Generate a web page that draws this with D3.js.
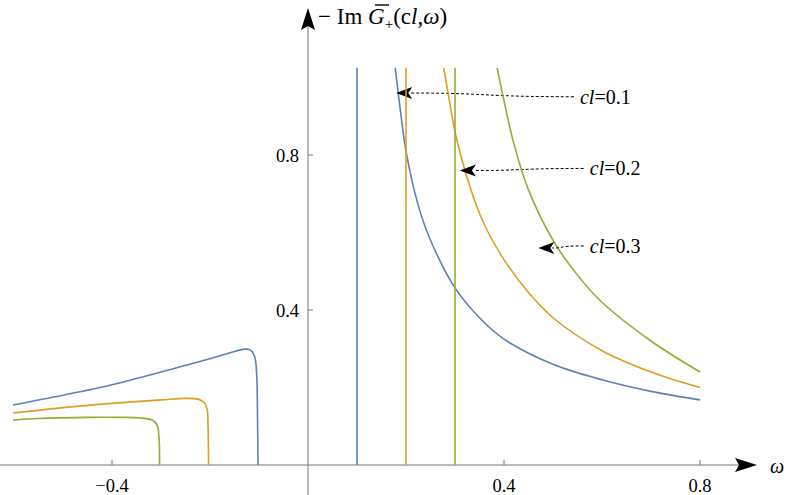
<!DOCTYPE html><html><head><meta charset="utf-8">
<script src="https://cdn.jsdelivr.net/npm/d3@7"></script>
<style>body{margin:0;background:#fff}text{font-family:"Liberation Serif","DejaVu Serif",serif}</style></head><body>
<svg id="c" width="789" height="495"></svg>
<script>
const xTicks=[-0.4,0.4,0.8], yTicks=[0.4,0.8];
const colors=["#5E81B5","#E19C24","#8FB032"];
const clLabels=["0.1","0.2","0.3"];
const vLines=[0.1,0.2,0.3];
const rightBlue=[[0.178,1.025],[0.19,0.9],[0.2,0.81],[0.225,0.67],[0.25,0.58],[0.3,0.457],[0.35,0.38],[0.4,0.325],[0.5,0.26],[0.6,0.22],[0.7,0.19],[0.8,0.168]];
const rightOrange=[[0.277,1.025],[0.29,0.93],[0.3,0.86],[0.33,0.72],[0.36,0.62],[0.4,0.53],[0.45,0.445],[0.5,0.38],[0.6,0.295],[0.7,0.24],[0.8,0.2]];
const rightGreen=[[0.386,1.025],[0.4,0.94],[0.42,0.83],[0.45,0.71],[0.5,0.58],[0.55,0.49],[0.6,0.42],[0.7,0.32],[0.8,0.24]];
const leftBlue=[[-0.602,0.155],[-0.5,0.18],[-0.4,0.207],[-0.3,0.24],[-0.2,0.274],[-0.15,0.293],[-0.13,0.299],[-0.118,0.297],[-0.109,0.28],[-0.105,0.24],[-0.103,0.12],[-0.102,0]];
const leftOrange=[[-0.602,0.134],[-0.5,0.148],[-0.4,0.159],[-0.3,0.168],[-0.25,0.172],[-0.225,0.17],[-0.212,0.162],[-0.206,0.145],[-0.204,0.1],[-0.203,0]];
const leftGreen=[[-0.602,0.116],[-0.55,0.12],[-0.45,0.123],[-0.38,0.123],[-0.34,0.121],[-0.318,0.116],[-0.308,0.103],[-0.304,0.07],[-0.303,0]];
const rights=[rightBlue,rightOrange,rightGreen], lefts=[leftBlue,leftOrange,leftGreen];
const annText=[[0.555,0.94],[0.575,0.755],[0.575,0.555]];
const annTarget=[[0.18,0.96],[0.31,0.76],[0.47,0.56]];

const svg=d3.select("#c");
const x=d3.scaleLinear().domain([0,0.4]).range([308,504]);
const y=d3.scaleLinear().domain([0,0.8]).range([465,155]);
const g=svg.append("g");
g.append("line").attr("x1",0).attr("x2",745).attr("y1",y(0)).attr("y2",y(0)).attr("stroke","#777");
g.append("path").attr("d",`M757,${y(0)}L735,${y(0)-7}L739,${y(0)}L735,${y(0)+7}Z`).attr("fill","#000");
g.append("line").attr("x1",x(0)).attr("x2",x(0)).attr("y1",495).attr("y2",20).attr("stroke","#777");
g.append("path").attr("d",`M${x(0)},8L${x(0)-7},30L${x(0)},26L${x(0)+7},30Z`).attr("fill","#000");
xTicks.forEach(t=>{g.append("line").attr("x1",x(t)).attr("x2",x(t)).attr("y1",y(0)).attr("y2",y(0)-5).attr("stroke","#777");
 g.append("text").attr("x",x(t)).attr("y",y(0)+27).attr("text-anchor","middle").attr("font-size",18.5).attr("font-family","Liberation Sans, sans-serif").text(t<0?"\u2212"+Math.abs(t):t);});
yTicks.forEach(t=>{g.append("line").attr("x1",x(0)).attr("x2",x(0)+5).attr("y1",y(t)).attr("y2",y(t)).attr("stroke","#777");
 g.append("text").attr("x",x(0)-9).attr("y",y(t)+7).attr("text-anchor","end").attr("font-size",18.5).attr("font-family","Liberation Sans, sans-serif").text(t);});
g.append("text").attr("x",770).attr("y",y(0)+8).attr("font-size",20).attr("font-style","italic").text("ω");
const yl=g.append("text").attr("x",318).attr("y",24).attr("font-size",23);
yl.append("tspan").text("− Im ");
yl.append("tspan").attr("font-style","italic").text("G");
yl.append("tspan").attr("font-size",15).attr("dy",5).text("+");
yl.append("tspan").attr("dy",-5).text("(c");
yl.append("tspan").attr("font-style","italic").text("l");
yl.append("tspan").text(",");
yl.append("tspan").attr("font-style","italic").text("ω");
yl.append("tspan").text(")");
g.append("line").attr("x1",375).attr("x2",389).attr("y1",5).attr("y2",5).attr("stroke","#000").attr("stroke-width",1.4);
const line=d3.line().x(d=>x(d[0])).y(d=>y(d[1])).curve(d3.curveCatmullRom.alpha(0.5));
colors.forEach((c,i)=>{
 g.append("line").attr("x1",x(vLines[i])).attr("x2",x(vLines[i])).attr("y1",y(0)).attr("y2",y(1.025)).attr("stroke",c).attr("stroke-width",1.6);
 g.append("path").attr("d",line(rights[i])).attr("fill","none").attr("stroke",c).attr("stroke-width",1.6);
 g.append("path").attr("d",line(lefts[i])).attr("fill","none").attr("stroke",c).attr("stroke-width",1.6);
 const tx=x(annText[i][0]), ty=y(annText[i][1]), ax=x(annTarget[i][0]), ay=y(annTarget[i][1]);
 const sx=tx-6, mx=(sx+ax)/2;
 g.append("path").attr("d",`M${sx},${ty-4}C${mx-5},${ty-4} ${mx+5},${ay} ${ax+14},${ay}`).attr("fill","none").attr("stroke","#000").attr("stroke-dasharray","3,2");
 g.append("path").attr("d",`M${ax},${ay}L${ax+16},${ay-6}L${ax+12},${ay}L${ax+16},${ay+6}Z`).attr("fill","#000");
 const t=g.append("text").attr("x",tx).attr("y",ty+3).attr("font-size",20);
 t.append("tspan").attr("font-style","italic").text("cl");
 t.append("tspan").text("="+clLabels[i]);
});
</script></body></html>
